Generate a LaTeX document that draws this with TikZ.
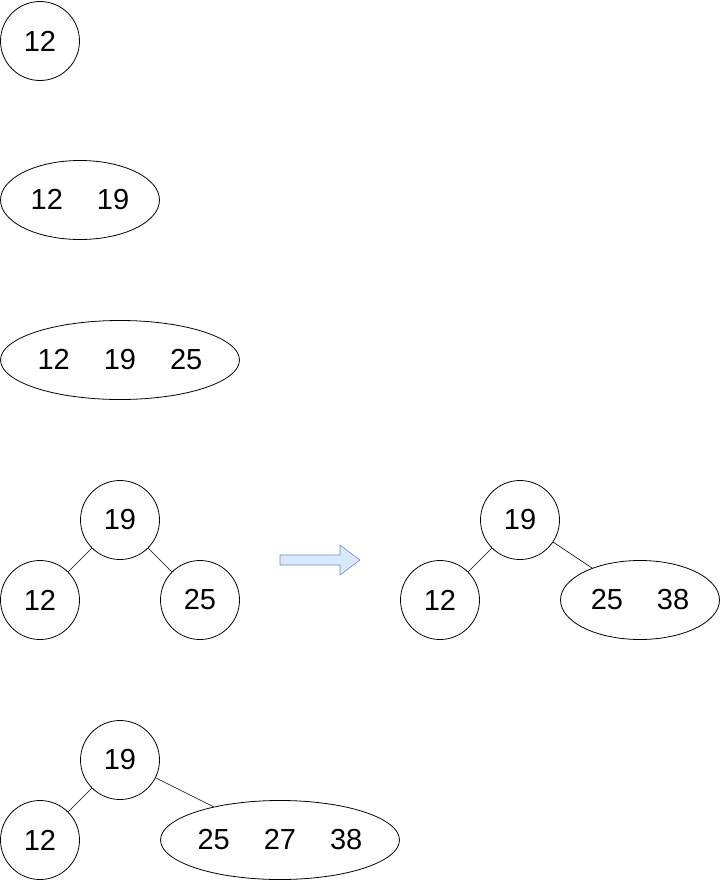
\documentclass[tikz,border=0pt]{standalone}
\usepackage{fontspec}
\setmainfont{Liberation Sans}
\usetikzlibrary{shapes.geometric}
\definecolor{arrowfill}{HTML}{DAE8FC}
\definecolor{arrowline}{HTML}{6C8EBF}
\newcommand{\keygap}{\hspace{34pt}}
\begin{document}
\begin{tikzpicture}[x=1pt, y=-1pt,
  key/.style={draw, circle, minimum size=79pt, inner sep=0pt, line width=0.8pt, font=\fontsize{29}{34}\selectfont},
  pair/.style={draw, ellipse, minimum width=159pt, minimum height=79pt, inner sep=0pt, line width=0.8pt, font=\fontsize{29}{34}\selectfont},
  triple/.style={pair, minimum width=239pt},
  link/.style={line width=0.6pt}]
\useasboundingbox (0, 0) rectangle (721, 881);

\node [key] (one) at (40, 41) {12};
\node [pair] (two) at (80, 200) {12\keygap 19};
\node [triple] (three) at (120, 360) {12\keygap 19\keygap 25};

\node [key] (aroot) at (120, 520) {19};
\node [key] (aleft) at (40, 600) {12};
\node [key] (aright) at (200, 600) {25};
\draw [link] (aroot) -- (aleft);
\draw [link] (aroot) -- (aright);

\draw [fill=arrowfill, draw=arrowline, line width=0.6pt] (280, 555) -- (340, 555) -- (340, 545) -- (360, 560) -- (340, 575) -- (340, 565) -- (280, 565) -- cycle;

\node [key] (broot) at (520, 520) {19};
\node [key] (bleft) at (440, 600) {12};
\node [pair] (bright) at (640, 600) {25\keygap 38};
\draw [link] (broot) -- (bleft);
\draw [link] (broot) -- (bright);

\node [key] (croot) at (120, 760) {19};
\node [key] (cleft) at (40, 840) {12};
\node [triple] (cright) at (280, 840) {25\keygap 27\keygap 38};
\draw [link] (croot) -- (cleft);
\draw [link] (croot) -- (cright);
\end{tikzpicture}
\end{document}
